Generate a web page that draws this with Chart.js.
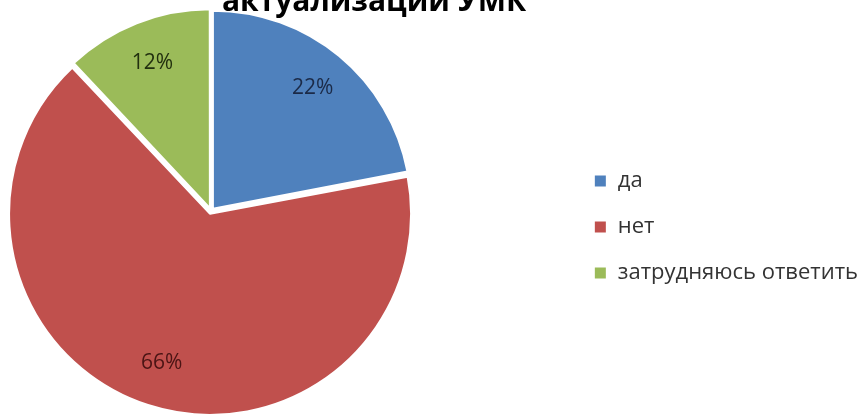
<!DOCTYPE html>
<html lang="ru">
<head>
<meta charset="UTF-8">
<title>актуализации УМК</title>
<script src="https://cdn.jsdelivr.net/npm/chart.js"></script>
<style>
  html, body { margin: 0; padding: 0; background: #fff; }
  #wrap { width: 868px; height: 414px; }
</style>
</head>
<body>
<div id="wrap"><canvas id="pie"></canvas></div>
<script>
const labels = ['да', 'нет', 'затрудняюсь ответить'];
const shares = [22, 66, 12];
const sliceColors = ['#4F81BD', '#C0504D', '#9BBB59'];
const valueColors = ['#1b2a47', '#4a1414', '#22300f'];
const titleText = 'актуализации УМК';
const FONT = '"Open Sans", "Noto Sans", sans-serif';

// pie lives in the left part of the canvas, the legend keeps the right part
const pieBox = { left: 0, top: 0, right: 422, bottom: 422 };

const pieBoxPlugin = {
  id: 'pieBox',
  afterLayout(chart) {
    chart.chartArea = {
      left: pieBox.left, top: pieBox.top, right: pieBox.right, bottom: pieBox.bottom,
      width: pieBox.right - pieBox.left, height: pieBox.bottom - pieBox.top
    };
  }
};

// title is cut by the top edge in the original picture
const titlePlugin = {
  id: 'cutTitle',
  afterDraw(chart) {
    const ctx = chart.ctx;
    ctx.save();
    ctx.font = 'bold 30px ' + FONT;
    ctx.fillStyle = '#000';
    ctx.textAlign = 'center';
    ctx.textBaseline = 'alphabetic';
    ctx.fillText(titleText, 374, 11);
    ctx.restore();
  }
};

// percentage labels inside the slices
const valueLabels = {
  id: 'valueLabels',
  afterDatasetsDraw(chart) {
    const ctx = chart.ctx;
    const meta = chart.getDatasetMeta(0);
    const shift = chart.data.datasets[0].offset / 4; // arc draws offset/4
    ctx.save();
    ctx.font = '21px ' + FONT;
    ctx.textAlign = 'center';
    ctx.textBaseline = 'middle';
    meta.data.forEach((arc, i) => {
      const p = arc.getProps(['x', 'y', 'startAngle', 'endAngle', 'outerRadius'], true);
      const mid = (p.startAngle + p.endAngle) / 2;
      const r = p.outerRadius * 0.79 + shift;
      ctx.fillStyle = valueColors[i];
      ctx.fillText(shares[i] + '%', p.x + Math.cos(mid) * r, p.y + Math.sin(mid) * r);
    });
    ctx.restore();
  }
};

new Chart(document.getElementById('pie'), {
  type: 'pie',
  data: {
    labels: labels,
    datasets: [{
      data: shares,
      backgroundColor: sliceColors,
      borderColor: '#ffffff',
      borderWidth: 2,
      offset: 12,
      radius: 198,
      clip: false
    }]
  },
  options: {
    responsive: true,
    maintainAspectRatio: false,
    animation: false,
    layout: { padding: { top: 40 } },
    plugins: {
      legend: {
        position: 'right',
        labels: {
          boxWidth: 13,
          boxHeight: 13,
          padding: 24,
          color: '#333',
          font: { family: FONT, size: 22 }
        }
      },
      tooltip: { enabled: false }
    }
  },
  plugins: [pieBoxPlugin, valueLabels, titlePlugin]
});
</script>
</body>
</html>
